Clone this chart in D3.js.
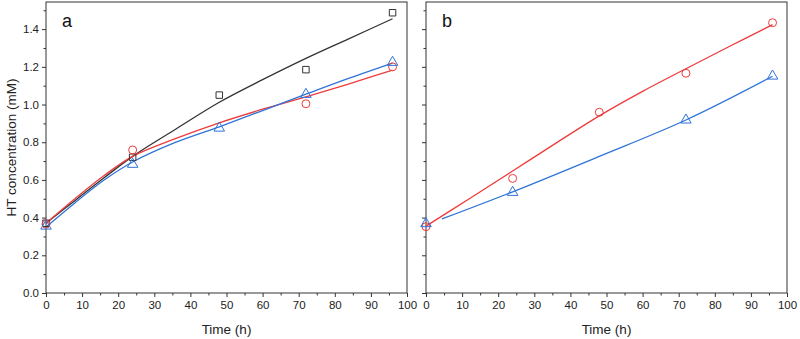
<!DOCTYPE html>
<html>
<head>
<meta charset="utf-8">
<script src="https://cdn.jsdelivr.net/npm/d3@7"></script>
<style>
  body { margin: 0; background: #fff; }
  svg { font-family: "Liberation Sans", Arial, sans-serif; }
</style>
</head>
<body>
<svg id="chart" width="800" height="339"></svg>
<script>
// ---------- data

const timePoints = [0, 24, 48, 72, 96];

// panel a measured points
const aBlackPts = [0.37, 0.72, 1.05, 1.185, 1.487];
const aRedPts = [0.365, 0.759, null, 1.004, 1.2];
const aBluePts = [0.355, 0.683, 0.875, 1.054, 1.224];

// panel a fitted curves
const fitTimes = [0, 8, 16, 24, 36, 48, 60, 72, 84, 96];
const aBlackFit = [0.37, 0.49, 0.61, 0.725, 0.87, 1.012, 1.132, 1.245, 1.35, 1.455];
const aRedFit = [0.37, 0.50, 0.622, 0.725, 0.82, 0.903, 0.975, 1.041, 1.11, 1.183];
const aBlueFit = [0.35, 0.478, 0.598, 0.695, 0.80, 0.882, 0.968, 1.055, 1.14, 1.22];

// panel b measured points
const bRedPts = [0.352, 0.608, 0.959, 1.166, 1.434];
const bBluePts = [0.368, 0.534, null, 0.918, 1.151];

// panel b fitted curves
const bRedFitTimes = [0, 12, 24, 36, 48, 60, 72, 84, 96];
const bRedFit = [0.355, 0.50, 0.647, 0.795, 0.94, 1.07, 1.19, 1.308, 1.424];
const bBlueFitTimes = [4.4, 24, 48, 72, 96];
const bBlueFit = [0.393, 0.537, 0.725, 0.918, 1.15];

const xTicks = [0, 10, 20, 30, 40, 50, 60, 70, 80, 90, 100];
const yTicks = [0, 0.2, 0.4, 0.6, 0.8, 1.0, 1.2, 1.4];

// ---------- layout

const svg = d3.select('#chart');
const plotTop = 2, plotBottom = 293;
const black = '#333', red = '#ee3b3b', blue = '#2f74d8';

const yScale = d3.scaleLinear()
  .domain([0, 1.544])
  .range([plotBottom, plotTop]);

const panels = [
  {left: 46, right: 407, label: 'a', showY: true,
   lines: [
     {t: fitTimes, v: aBlackFit, color: black},
     {t: fitTimes, v: aRedFit, color: red},
     {t: fitTimes, v: aBlueFit, color: blue}
   ],
   points: [
     {v: aBlackPts, color: black, sym: d3.symbolSquare, size: 42},
     {v: aRedPts, color: red, sym: d3.symbolCircle, size: 50},
     {v: aBluePts, color: blue, sym: d3.symbolTriangle, size: 48}
   ]},
  {left: 426, right: 787, label: 'b', showY: false,
   lines: [
     {t: bRedFitTimes, v: bRedFit, color: red},
     {t: bBlueFitTimes, v: bBlueFit, color: blue}
   ],
   points: [
     {v: bRedPts, color: red, sym: d3.symbolCircle, size: 50},
     {v: bBluePts, color: blue, sym: d3.symbolTriangle, size: 48}
   ]}
];

panels.forEach(p => {
  const xScale = d3.scaleLinear().domain([0, 100]).range([p.left, p.right]);
  const g = svg.append('g');

  // minor ticks
  g.append('g')
    .attr('transform', `translate(0,${plotBottom})`)
    .call(d3.axisBottom(xScale).tickValues(d3.range(5, 100, 10)).tickSize(2.5).tickFormat(''))
    .call(s => s.select('.domain').remove());
  g.append('g')
    .attr('transform', `translate(${p.left},0)`)
    .call(d3.axisLeft(yScale).tickValues(d3.range(0.1, 1.55, 0.2)).tickSize(2.5).tickFormat(''))
    .call(s => s.select('.domain').remove());

  // major ticks
  g.append('g')
    .attr('transform', `translate(0,${plotBottom})`)
    .call(d3.axisBottom(xScale).tickValues(xTicks).tickSize(4).tickPadding(4))
    .call(s => s.select('.domain').remove());
  g.append('g')
    .attr('transform', `translate(${p.left},0)`)
    .call(d3.axisLeft(yScale).tickValues(yTicks).tickSize(4).tickPadding(3)
      .tickFormat(p.showY ? d3.format('.1f') : ''))
    .call(s => s.select('.domain').remove());

  g.selectAll('.tick line').attr('stroke', black);
  g.selectAll('.tick text').attr('fill', '#222').style('font-size', '11.5px')
    .style('font-family', '"Liberation Sans", Arial, sans-serif');

  // frame
  g.append('rect')
    .attr('x', p.left).attr('y', plotTop)
    .attr('width', p.right - p.left).attr('height', plotBottom - plotTop)
    .attr('fill', 'none').attr('stroke', black).attr('stroke-width', 1);

  // fitted lines
  const line = d3.line()
    .x(d => xScale(d[0]))
    .y(d => yScale(d[1]))
    .curve(d3.curveCatmullRom);

  p.lines.forEach(l => {
    g.append('path')
      .datum(l.t.map((t, i) => [t, l.v[i]]))
      .attr('d', line)
      .attr('fill', 'none')
      .attr('stroke', l.color)
      .attr('stroke-width', 1.3);
  });

  // markers
  p.points.forEach(s => {
    const pts = timePoints.map((t, i) => [t, s.v[i]]).filter(d => d[1] != null);
    g.selectAll(null)
      .data(pts)
      .enter().append('path')
      .attr('d', d3.symbol().type(s.sym).size(s.size))
      .attr('transform', d => `translate(${xScale(d[0])},${yScale(d[1])})`)
      .attr('fill', 'none')
      .attr('stroke', s.color)
      .attr('stroke-width', 1);
  });

  // panel letter
  g.append('text')
    .attr('x', p.left + 16).attr('y', 27)
    .style('font-size', '18px')
    .attr('fill', '#111')
    .text(p.label);

  // x axis title
  g.append('text')
    .attr('x', (p.left + p.right) / 2).attr('y', 334)
    .attr('text-anchor', 'middle')
    .style('font-size', '13.5px')
    .attr('fill', '#222')
    .text('Time (h)');
});

// y axis title
svg.append('text')
  .attr('transform', `translate(16,${(plotTop + plotBottom) / 2}) rotate(-90)`)
  .attr('text-anchor', 'middle')
  .style('font-size', '13.5px')
  .attr('fill', '#222')
  .text('HT concentration (mM)');
</script>
</body>
</html>
